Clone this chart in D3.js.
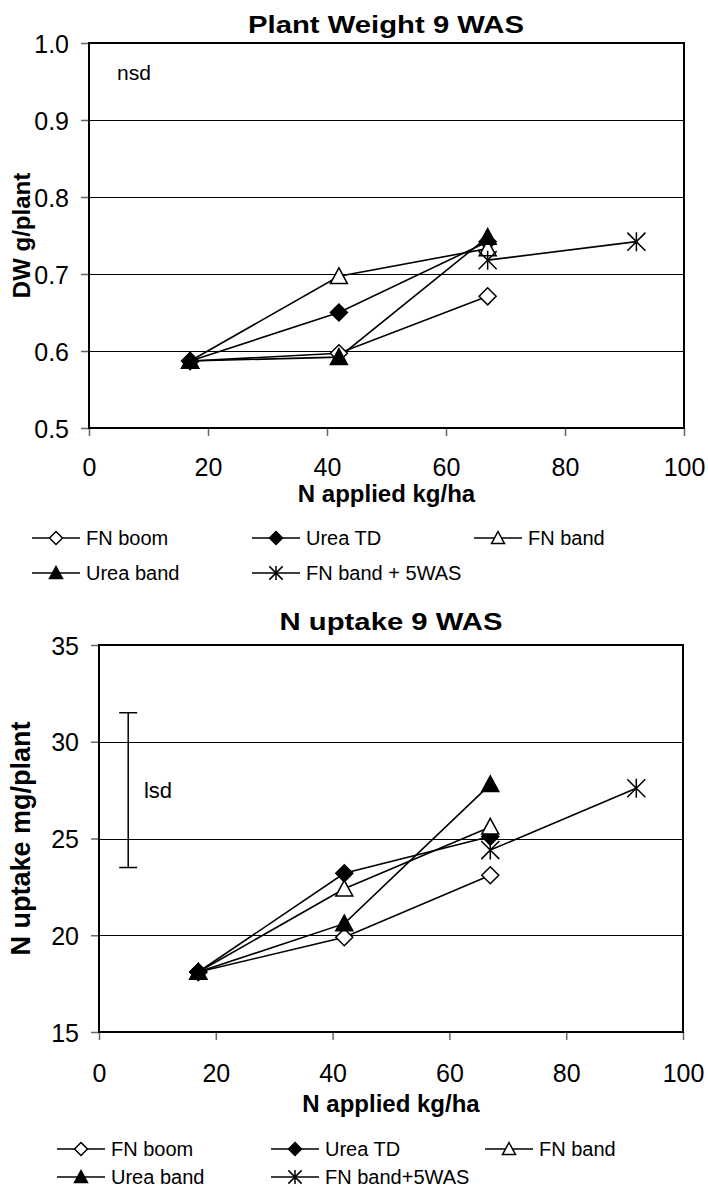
<!DOCTYPE html>
<html>
<head>
<meta charset="utf-8">
<script src="https://cdn.jsdelivr.net/npm/d3@7"></script>
<style>
  body { margin: 0; background: #fff; }
  svg { display: block; font-family: "Liberation Sans", Arial, sans-serif; }
</style>
</head>
<body>
<div id="chart"></div>
<script>
// N applied (kg/ha) for each treatment
const nApplied = [17, 42, 67];
const nAppliedLate = [67, 92];
const seriesNames = ['FN boom', 'Urea TD', 'FN band', 'Urea band', 'FN band + 5WAS'];
const seriesNames2 = ['FN boom', 'Urea TD', 'FN band', 'Urea band', 'FN band+5WAS'];

// plant weight 9 WAS (g/plant)
const dwFnBoom = [0.587, 0.597, 0.671];
const dwUreaTD = [0.587, 0.650, 0.742];
const dwFnBand = [0.587, 0.697, 0.733];
const dwUreaBand = [0.587, 0.592, 0.748];
const dwFnBand5 = [0.718, 0.742];

// N uptake 9 WAS (mg/plant)
const nuFnBoom = [18.1, 19.9, 23.1];
const nuUreaTD = [18.1, 23.2, 25.1];
const nuFnBand = [18.1, 22.4, 25.6];
const nuUreaBand = [18.1, 20.6, 27.8];
const nuFnBand5 = [24.4, 27.6];

const xTicks = [0, 20, 40, 60, 80, 100];
const dwTicks = [0.5, 0.6, 0.7, 0.8, 0.9, 1.0];
const nuTicks = [15, 20, 25, 30, 35];

// lsd bar for N uptake: x position, low, high
const lsdX = 5, lsdLow = 23.5, lsdHigh = 31.5;

const markers = ['diamondOpen', 'diamond', 'triangleOpen', 'triangle', 'star'];

const svg = d3.select('#chart').append('svg')
  .attr('width', 708)
  .attr('height', 1187);

function marker(g, type, x, y, s) {
  // s = half size of marker
  if (type === 'diamondOpen' || type === 'diamond') {
    g.append('path')
      .attr('d', `M${x},${y - s}L${x + s},${y}L${x},${y + s}L${x - s},${y}Z`)
      .attr('fill', type === 'diamond' ? '#000' : '#fff')
      .attr('stroke', '#000').attr('stroke-width', 1.5);
  } else if (type === 'triangleOpen' || type === 'triangle') {
    g.append('path')
      .attr('d', `M${x},${y - s}L${x + s},${y + s * 0.85}L${x - s},${y + s * 0.85}Z`)
      .attr('fill', type === 'triangle' ? '#000' : '#fff')
      .attr('stroke', '#000').attr('stroke-width', 1.5);
  } else {
    const d = s * 0.95;
    g.append('path')
      .attr('d', `M${x},${y - s}L${x},${y + s}M${x - d},${y - d}L${x + d},${y + d}M${x - d},${y + d}L${x + d},${y - d}`)
      .attr('stroke', '#000').attr('stroke-width', 1.5).attr('fill', 'none');
  }
}

function drawChart(cfg) {
  const x = d3.scaleLinear().domain([0, 100]).range([cfg.left, cfg.right]);
  const y = d3.scaleLinear().domain([cfg.yTicks[0], cfg.yTicks[cfg.yTicks.length - 1]]).range([cfg.bottom, cfg.top]);
  const g = svg.append('g');

  // gridlines
  g.selectAll('.grid')
    .data(cfg.yTicks.slice(1, -1))
    .enter().append('line')
      .attr('x1', cfg.left).attr('x2', cfg.right)
      .attr('y1', d => Math.round(y(d)) + 0.5).attr('y2', d => Math.round(y(d)) + 0.5)
      .attr('stroke', '#000').attr('stroke-width', 1);

  // axes
  const yAxis = g.append('g')
    .attr('transform', `translate(${cfg.left},0)`)
    .call(d3.axisLeft(y).tickValues(cfg.yTicks).tickFormat(cfg.yFormat).tickSizeInner(8).tickSizeOuter(0).tickPadding(12));
  const xAxis = g.append('g')
    .attr('transform', `translate(0,${cfg.bottom})`)
    .call(d3.axisBottom(x).tickValues(xTicks).tickSizeInner(8).tickSizeOuter(0).tickPadding(cfg.xPad));
  [xAxis, yAxis].forEach(a => {
    a.select('.domain').remove();
    a.selectAll('line').attr('stroke', '#666').attr('stroke-width', 1.5);
    a.selectAll('text').attr('font-size', 25).attr('fill', '#000')
      .attr('font-family', '"Liberation Sans", Arial, sans-serif');
  });
  yAxis.selectAll('text').attr('dy', '0.36em');

  // plot frame
  g.append('rect')
    .attr('x', cfg.left).attr('y', cfg.top)
    .attr('width', cfg.right - cfg.left).attr('height', cfg.bottom - cfg.top)
    .attr('fill', 'none').attr('stroke', '#000').attr('stroke-width', 2);

  // titles (chart title is drawn a bit wider, as in the original)
  g.append('text')
    .attr('transform', `translate(${cfg.titleX},${cfg.titleY}) scale(1.22,1)`)
    .attr('text-anchor', 'middle').attr('font-size', 24).attr('font-weight', 'bold')
    .text(cfg.title);
  g.append('text')
    .attr('x', (cfg.left + cfg.right) / 2).attr('y', cfg.bottom + cfg.xTitleGap)
    .attr('text-anchor', 'middle').attr('font-size', 24).attr('font-weight', 'bold')
    .text('N applied kg/ha');
  g.append('text')
    .attr('transform', `translate(30,${(cfg.top + cfg.bottom) / 2}) rotate(-90)`)
    .attr('text-anchor', 'middle').attr('font-size', cfg.yTitleSize).attr('font-weight', 'bold')
    .text(cfg.yTitle);

  // series
  const line = d3.line().x(d => x(d[0])).y(d => y(d[1]));
  cfg.series.forEach((s, i) => {
    const pts = s.xs.map((v, j) => [v, s.ys[j]]);
    g.append('path').datum(pts)
      .attr('d', line).attr('fill', 'none')
      .attr('stroke', '#000').attr('stroke-width', 1.6);
  });
  cfg.series.forEach((s, i) => {
    s.xs.forEach((v, j) => marker(g, markers[i], x(v), y(s.ys[j]), i === 4 ? 9.5 : 8.5));
  });

  if (cfg.extra) cfg.extra(g, x, y);

  // legend
  cfg.names.forEach((name, i) => {
    const col = i % 3, row = Math.floor(i / 3);
    const lx = cfg.legendX[col], ly = cfg.legendY[row];
    g.append('line')
      .attr('x1', lx).attr('x2', lx + 48)
      .attr('y1', ly).attr('y2', ly)
      .attr('stroke', '#000').attr('stroke-width', 1.5);
    marker(g, markers[i], lx + 24, ly, i === 4 ? 7 : 6.5);
    g.append('text')
      .attr('x', lx + 54).attr('y', ly + 7)
      .attr('font-size', 20)
      .text(name);
  });
}

drawChart({
  left: 89, right: 684, top: 43, bottom: 428,
  yTicks: dwTicks, yFormat: d3.format('.1f'),
  title: 'Plant Weight 9 WAS', titleX: 386, titleY: 33,
  yTitle: 'DW g/plant', yTitleSize: 24,
  xPad: 22, xTitleGap: 74,
  series: [
    { xs: nApplied, ys: dwFnBoom },
    { xs: nApplied, ys: dwUreaTD },
    { xs: nApplied, ys: dwFnBand },
    { xs: nApplied, ys: dwUreaBand },
    { xs: nAppliedLate, ys: dwFnBand5 }
  ],
  names: seriesNames,
  legendX: [32, 252, 474], legendY: [538, 573],
  extra: (g, x, y) => {
    g.append('text').attr('x', x(4.7)).attr('y', y(0.952))
      .attr('font-size', 21).text('nsd');
  }
});

drawChart({
  left: 99, right: 683, top: 645, bottom: 1032,
  yTicks: nuTicks, yFormat: d3.format('d'),
  title: 'N uptake 9 WAS', titleX: 391, titleY: 630,
  yTitle: 'N uptake mg/plant', yTitleSize: 27,
  xPad: 24, xTitleGap: 80,
  series: [
    { xs: nApplied, ys: nuFnBoom },
    { xs: nApplied, ys: nuUreaTD },
    { xs: nApplied, ys: nuFnBand },
    { xs: nApplied, ys: nuUreaBand },
    { xs: nAppliedLate, ys: nuFnBand5 }
  ],
  names: seriesNames2,
  legendX: [57, 271, 485], legendY: [1149, 1177],
  extra: (g, x, y) => {
    const bx = x(lsdX);
    g.append('line').attr('x1', bx).attr('x2', bx)
      .attr('y1', y(lsdLow)).attr('y2', y(lsdHigh))
      .attr('stroke', '#000').attr('stroke-width', 1.5);
    [lsdLow, lsdHigh].forEach(v => {
      g.append('line').attr('x1', bx - 9).attr('x2', bx + 9)
        .attr('y1', y(v)).attr('y2', y(v))
        .attr('stroke', '#000').attr('stroke-width', 1.5);
    });
    g.append('text').attr('x', x(7.7)).attr('y', y(27.1))
      .attr('font-size', 22).text('lsd');
  }
});
</script>
</body>
</html>
